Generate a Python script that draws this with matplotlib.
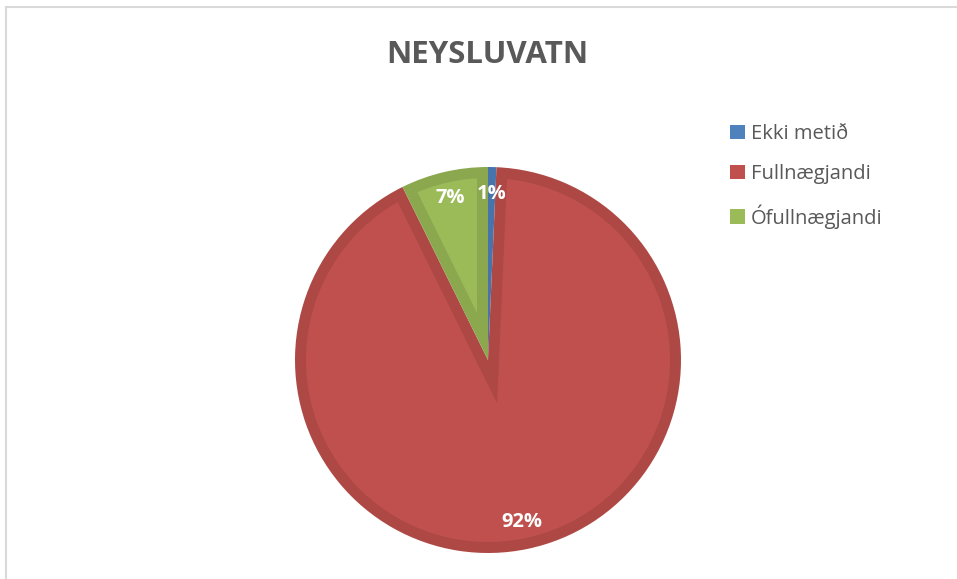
import numpy as np
import matplotlib
matplotlib.use('Agg')
from matplotlib import pyplot as plt
from matplotlib.patches import Patch, Polygon
from matplotlib.lines import Line2D

# data
labels = ['Ekki metið', 'Fullnægjandi', 'Ófullnægjandi']
values = [0.7, 92.0, 7.3]
colors = ['#4F81BD', '#C0504D', '#9BBB59']
edge_colors = ['#4775AB', '#AD4845', '#8BA84F']
title = 'NEYSLUVATN'

plt.rcParams['font.family'] = ['Open Sans', 'DejaVu Sans']
text_grey = '#595959'

W, H = 957, 579
fig = plt.figure(figsize=(W / 100, H / 100), dpi=100)

# chart frame (cut off on the right and bottom like the screenshot)
fig.add_artist(Line2D([6 / W, 1.0], [1 - 7 / H, 1 - 7 / H], color='#D9D9D9', lw=1.5))
fig.add_artist(Line2D([6 / W, 6 / W], [0.0, 1 - 7 / H], color='#D9D9D9', lw=1.5))

R_PX = 193
ax = fig.add_axes([(488 - R_PX) / W, (H - 360 - R_PX) / H, 2 * R_PX / W, 2 * R_PX / H])

wedges, texts, autotexts = ax.pie(
    values, colors=edge_colors, startangle=90, counterclock=False,
    autopct=lambda p: f'{p:.0f}%', pctdistance=0.86, radius=1,
    wedgeprops=dict(linewidth=0),
    textprops=dict(color='white', fontsize=14.5, fontweight='bold'))

# lighter inner fill -> leaves a darker band (mitred) along each slice edge
d = 11 / R_PX
for w, fill in zip(wedges, colors):
    t1, t2 = np.radians(w.theta1), np.radians(w.theta2)
    span = t2 - t1
    mid = (t1 + t2) / 2
    apex_dist = d / np.sin(span / 2)
    r_in = w.r - d
    if span < np.pi and apex_dist >= r_in:
        continue
    apex = apex_dist * np.array([np.cos(mid), np.sin(mid)])
    t = np.sqrt(r_in ** 2 - d ** 2)
    off = np.arctan2(d, t)
    arc = np.linspace(t1 + off, t2 - off, 200)
    pts = np.vstack([apex, np.column_stack([r_in * np.cos(arc), r_in * np.sin(arc)])])
    ax.add_patch(Polygon(pts, closed=True, facecolor=fill, edgecolor='none', zorder=1.5))

for txt in autotexts:
    txt.set_zorder(3)

ax.set_xlim(-1, 1)
ax.set_ylim(-1, 1)
ax.set_aspect('equal')
ax.axis('off')

fig.text(487 / W, 1 - 63 / H, title, ha='center', va='baseline',
         fontsize=22.5, fontweight='bold', color=text_grey)

handles = [Patch(facecolor=c, edgecolor='none') for c in colors]
fig.legend(handles, labels, loc='upper left', bbox_to_anchor=(730 / W, 1 - 124 / H),
           frameon=False, fontsize=14.5, labelcolor=text_grey, borderpad=0,
           borderaxespad=0, handlelength=0.75, handleheight=0.75,
           handletextpad=0.3, labelspacing=1.0)

fig.savefig('out.png', dpi=100)
